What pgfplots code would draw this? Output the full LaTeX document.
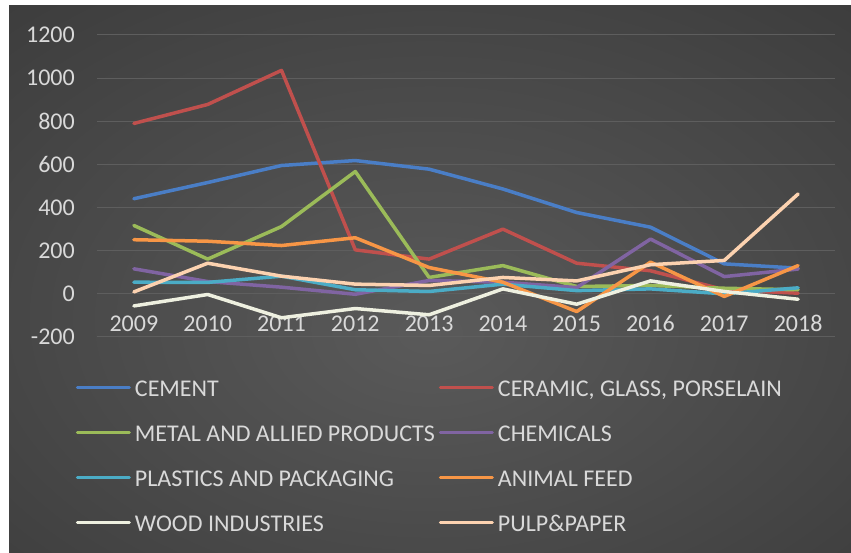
\documentclass[border=0pt]{standalone}
\usepackage{pgfplots}
\usepackage{pgfplotstable}
\usepackage{fontspec}
\setmainfont{Carlito}
\pgfplotsset{compat=1.18}
\definecolor{bgin}{HTML}{5A5A5A}
\definecolor{bgout}{HTML}{222222}
\definecolor{gridc}{HTML}{5E5E5E}
\definecolor{txt}{HTML}{D9D9D9}
\definecolor{cCement}{HTML}{4A7EC6}
\definecolor{cCeramic}{HTML}{C0504D}
\definecolor{cMetal}{HTML}{9BBB59}
\definecolor{cChem}{HTML}{8064A2}
\definecolor{cPlast}{HTML}{4BACC6}
\definecolor{cFeed}{HTML}{F79646}
\definecolor{cWood}{HTML}{EEF0E0}
\definecolor{cPulp}{HTML}{FCD2B0}
\pgfdeclareradialshading{bgshade}{\pgfpoint{0bp}{-5bp}}{color(0bp)=(bgin); color(72bp)=(bgout)}
\pgfplotstableread{
x cement ceramic metal chem plast feed wood pulp
0 441 790 317 116 54 251 -56 9
1 516 878 161 57 53 244 -3 142
2 595 1036 312 31 82 224 -111 82
3 618 204 567 -2 19 260 -68 45
4 578 161 76 62 11 122 -97 39
5 486 300 131 54 45 54 23 76
6 377 142 34 29 15 -82 -48 60
7 309 107 39 254 23 147 60 135
8 139 19 26 80 0 -12 11 155
9 119 3 19 115 28 131 -25 463
}\data
\begin{document}
\begin{tikzpicture}[x=1pt,y=1pt]
\useasboundingbox (0,0) rectangle (851,553);
\fill[white] (0,0) rectangle (851,553);
\shade[shading=bgshade] (9,0) rectangle (851,547);
\begin{axis}[
  at={(97pt,216pt)}, anchor=south west,
  scale only axis, width=738pt, height=302pt,
  xmin=-0.5, xmax=9.5, ymin=-200, ymax=1200,
  axis line style={draw=none},
  major tick length=0pt,
  xtick={0,...,9},
  xticklabels={2009,2010,2011,2012,2013,2014,2015,2016,2017,2018},
  ytick={-200,0,200,400,600,800,1000,1200},
  yticklabels={-200,0,200,400,600,800,1000,1200},
  ymajorgrids,
  grid style={gridc, line width=1pt},
  tick label style={font=\fontsize{24}{28.8}\selectfont, text=txt, inner sep=0pt},
  xticklabel style={anchor=base, yshift=5pt},
  yticklabel style={anchor=east, xshift=-22pt},
  clip=false,
  every axis plot/.append style={line width=3.5pt, line join=round, line cap=round, mark=none},
  legend columns=2,
  legend style={at={(-0.0285,-0.129)}, anchor=north west, draw=none, fill=none,
    inner sep=0pt, outer sep=0pt,
    font=\fontsize{24}{28.8}\selectfont, text=txt,
    nodes={inner sep=0pt},
    row sep=23.5pt,
    /tikz/every odd column/.append style={column sep=4pt},
    /tikz/every even column/.append style={column sep=0pt}},
  legend cell align=left,
  legend image code/.code={\draw[#1, line width=3pt] (0pt,-0.5pt) -- (52pt,-0.5pt);},
]
\addplot[cCement] table[x=x,y=cement]{\data};
\addlegendentry{\makebox[304pt][l]{\strut CEMENT}}
\addplot[cCeramic] table[x=x,y=ceramic]{\data};
\addlegendentry{\strut CERAMIC, GLASS, PORSELAIN}
\addplot[cMetal] table[x=x,y=metal]{\data};
\addlegendentry{\makebox[304pt][l]{\strut METAL AND ALLIED PRODUCTS}}
\addplot[cChem] table[x=x,y=chem]{\data};
\addlegendentry{\strut CHEMICALS}
\addplot[cPlast] table[x=x,y=plast]{\data};
\addlegendentry{\makebox[304pt][l]{\strut PLASTICS AND PACKAGING}}
\addplot[cFeed] table[x=x,y=feed]{\data};
\addlegendentry{\strut ANIMAL FEED}
\addplot[cWood] table[x=x,y=wood]{\data};
\addlegendentry{\makebox[304pt][l]{\strut WOOD INDUSTRIES}}
\addplot[cPulp] table[x=x,y=pulp]{\data};
\addlegendentry{\strut PULP\&PAPER}
\end{axis}
\end{tikzpicture}
\end{document}
